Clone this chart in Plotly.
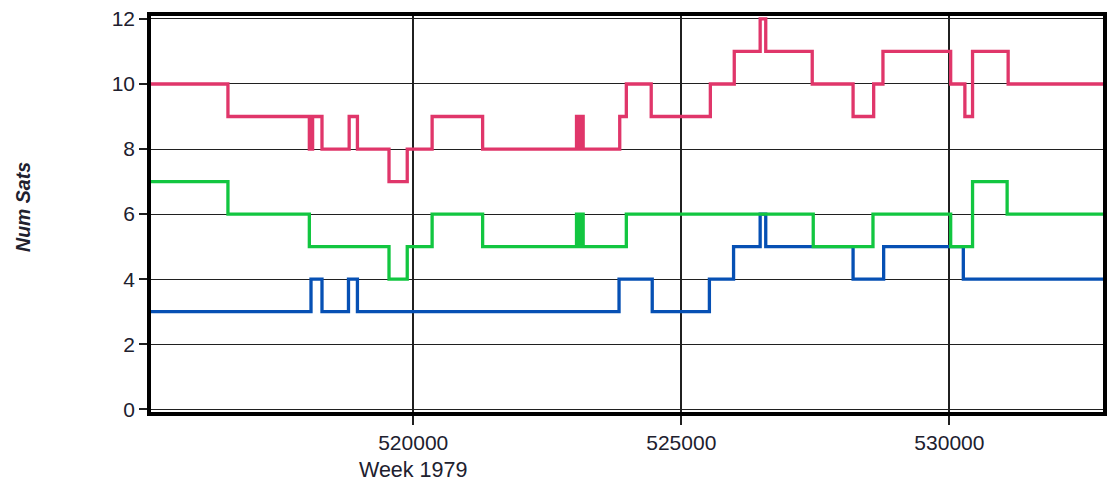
import plotly.graph_objects as go

# Step-series data: x = time where the value starts, y = number of satellites
pink_x = [515000, 516545, 518063, 518124, 518299, 518806, 518960, 519549, 519889, 520353,
          521295, 523046, 523070, 523095, 523120, 523145, 523170, 523852, 523975, 524439,
          525542, 525988, 526471, 526575, 527442, 528204, 528588, 528761, 530024, 530289,
          530432, 531096, 533000]
pink_y = [10, 9, 8, 9, 8, 9, 8, 7, 8, 9,
          8, 9, 8, 9, 8, 9, 8, 9, 10, 9,
          10, 11, 12, 11, 10, 9, 10, 11, 10, 9,
          11, 10, 10]

green_x = [515000, 516545, 518063, 519549, 519889, 520353, 521295, 523046, 523070, 523095,
           523120, 523145, 523170, 523975, 527461, 528575, 530024, 530432, 531077, 533000]
green_y = [7, 6, 5, 4, 5, 6, 5, 6, 5, 6,
           5, 6, 5, 6, 5, 6, 5, 7, 6, 6]

blue_x = [515000, 518094, 518299, 518793, 518960, 523839, 524458, 525524, 525975, 526471,
          526575, 528204, 528774, 530260, 533000]
blue_y = [3, 4, 3, 4, 3, 4, 3, 4, 5, 6,
          5, 4, 5, 4, 4]

x_ticks = [520000, 525000, 530000]
y_ticks = [0, 2, 4, 6, 8, 10, 12]

FONT = "Liberation Sans, Arial, sans-serif"
TXT = "#20202e"

fig = go.Figure()
fig.add_trace(go.Scatter(x=blue_x, y=blue_y, mode="lines", line=dict(shape="hv", color="#0650b4", width=3.3),
                         name="blue", showlegend=False))
fig.add_trace(go.Scatter(x=green_x, y=green_y, mode="lines", line=dict(shape="hv", color="#12c640", width=3.3),
                         name="green", showlegend=False))
fig.add_trace(go.Scatter(x=pink_x, y=pink_y, mode="lines", line=dict(shape="hv", color="#e0366a", width=3.3),
                         name="pink", showlegend=False))

fig.update_layout(
    width=1110, height=485,
    margin=dict(l=151, r=3, t=16, b=73),
    paper_bgcolor="white", plot_bgcolor="white",
    font=dict(family=FONT, size=21, color=TXT),
    xaxis=dict(range=[515110, 532865], tickvals=x_ticks, ticktext=[str(v) for v in x_ticks],
               showgrid=True, gridcolor="#202020", gridwidth=1.5,
               showline=True, linecolor="black", linewidth=3.5, mirror=True,
               ticks="outside", ticklen=9, tickwidth=1.5, tickcolor="#202020",
               zeroline=False, tickfont=dict(size=21, color=TXT)),
    yaxis=dict(range=[-0.083, 12.09], tickvals=y_ticks, ticktext=[str(v) for v in y_ticks],
               showgrid=True, gridcolor="#202020", gridwidth=1.2,
               showline=True, linecolor="black", linewidth=3.5, mirror=True,
               ticks="outside", ticklen=8, tickwidth=1.5, tickcolor="#202020",
               zeroline=False, tickfont=dict(size=21, color=TXT)),
    annotations=[
        dict(text="Week 1979", x=520000, xref="x", y=-0.146, yref="paper",
             xanchor="center", yanchor="middle", showarrow=False,
             font=dict(family=FONT, size=21.5, color=TXT)),
        dict(text="<b><i>Num Sats</i></b>", x=-0.1344, xref="paper", y=0.518, yref="paper",
             xanchor="center", yanchor="middle", showarrow=False, textangle=-90,
             font=dict(family=FONT, size=19.5, color=TXT)),
    ],
)

# remove the default page margin so the 1110x485 figure fills the window exactly
fig.write_html("out.html",
               config={"displayModeBar": False},
               post_script="document.body.style.margin='0';document.body.style.overflow='hidden';")
